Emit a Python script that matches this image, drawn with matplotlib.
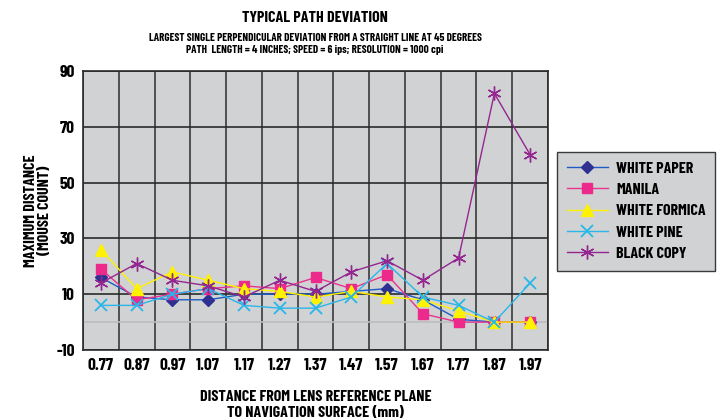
import numpy as np
import matplotlib
matplotlib.use("Agg")
import matplotlib.pyplot as plt

plt.rcParams['font.family'] = ['Barlow Condensed', 'DejaVu Sans']
plt.rcParams['font.weight'] = 'bold'
plt.rcParams['axes.labelweight'] = 'bold'
plt.rcParams['axes.unicode_minus'] = False

# distance from lens reference plane (mm)
distances = ["0.77", "0.87", "0.97", "1.07", "1.17", "1.27", "1.37",
             "1.47", "1.57", "1.67", "1.77", "1.87", "1.97"]

# max deviation in mouse counts
white_paper = [16, 9, 8, 8, 10, 10, 10, 11, 12, 8, 1, 0, 0]
manila = [19, 8, 10, 12, 13, 12, 16, 12, 17, 3, 0, 0, 0]
white_formica = [26, 12, 18, 15, 12, 11, 9, 11, 9, 8, 4, 0, 0]
white_pine = [6, 6, 10, 12, 6, 5, 5, 9, 21, 9, 6, 0, 14]
black_copy = [14, 21, 15, 13, 9, 15, 11, 18, 22, 15, 23, 82, 60]

x = np.arange(len(distances))

fig = plt.figure(figsize=(7.21, 4.20), dpi=100)
ax = fig.add_axes([0.1151, 0.1667, 0.645, 0.664])
ax.set_facecolor('#d1d2d4')

# grid: vertical lines between categories, horizontal every 20
for xv in np.arange(-0.5, len(distances), 1.0):
    ax.axvline(xv, color='#3a3a3a', lw=1.2, zorder=1)
for yv in [-10, 10, 30, 50, 70, 90]:
    ax.axhline(yv, color='#2a2a2a', lw=1.2, zorder=1)
ax.axhline(0, color='#bdbdbf', lw=1.2, zorder=1)

ax.plot(x, white_paper, color='#1d5cc4', lw=1, marker='D', ms=6,
        mfc='#2e3192', mec='#2e3192', label='WHITE PAPER', zorder=3)
ax.plot(x, manila, color='#e8338f', lw=1, marker='s', ms=7,
        mfc='#ec2a8c', mec='#ec2a8c', label='MANILA', zorder=3)
ax.plot(x, white_formica, color='#fff200', lw=1, marker='^', ms=9,
        mfc='#fff200', mec='#fff200', label='WHITE FORMICA', zorder=3)
ax.plot(x, white_pine, color='#29b6e8', lw=1, marker='x', ms=9, mew=1.3,
        label='WHITE PINE', zorder=3)
ax.plot(x, black_copy, color='#93278f', lw=1, marker=(6, 2, 0), ms=10, mew=1,
        label='BLACK COPY', zorder=3)

ax.set_xlim(-0.5, len(distances) - 0.5)
ax.set_ylim(-10, 90)
ax.set_xticks(x)
ax.set_xticklabels(distances)
ax.set_yticks([-10, 10, 30, 50, 70, 90])
ax.tick_params(length=0, labelsize=12.5, pad=6)
for s in ax.spines.values():
    s.set_color('#2a2a2a')
    s.set_linewidth(1.2)

ax.set_ylabel('MAXIMUM DISTANCE\n(MOUSE COUNT)', fontsize=11.5, labelpad=3,
              linespacing=1.0)
ax.set_xlabel('DISTANCE FROM LENS REFERENCE PLANE\nTO NAVIGATION SURFACE (mm)',
              fontsize=11.5, labelpad=12, linespacing=1.15)

fig.text(0.437, 0.957, 'TYPICAL PATH DEVIATION', ha='center', va='center',
         fontsize=11.5)
fig.text(0.437, 0.910, 'LARGEST SINGLE PERPENDICULAR DEVIATION FROM A STRAIGHT LINE AT 45 DEGREES',
         ha='center', va='center', fontsize=8)
fig.text(0.437, 0.880, 'PATH  LENGTH = 4 INCHES; SPEED = 6 ips; RESOLUTION = 1000 cpi',
         ha='center', va='center', fontsize=8)

leg = fig.legend(loc='center left', bbox_to_anchor=(0.7725, 0.497),
                 fontsize=11.5, frameon=True, fancybox=False,
                 handlelength=2.6, handletextpad=0.5, borderpad=0.6,
                 borderaxespad=0, labelspacing=0.45)
leg.get_frame().set_facecolor('#d1d2d4')
leg.get_frame().set_edgecolor('#3a3a3a')
leg.get_frame().set_alpha(1)

fig.savefig('out.png', dpi=100)
